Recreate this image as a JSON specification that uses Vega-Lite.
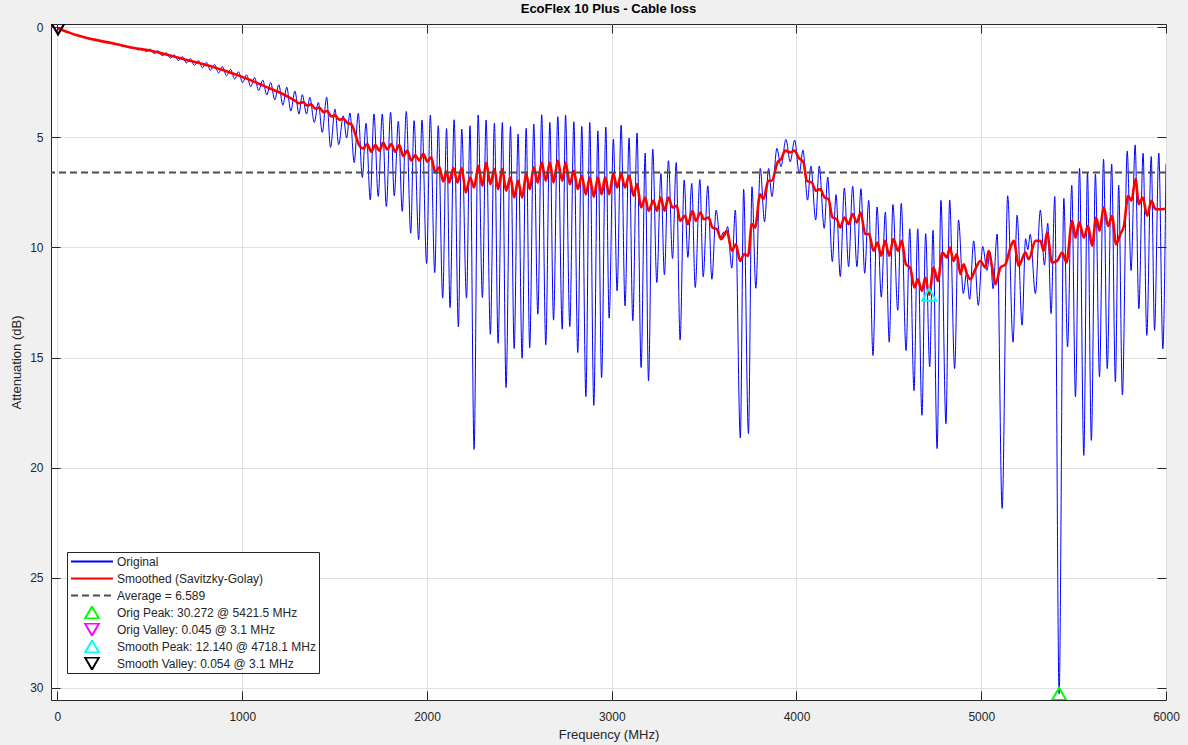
{
  "$schema": "https://vega.github.io/schema/vega-lite/v6.json",
  "width": 1115,
  "height": 676,
  "autosize": {"type": "none"},
  "padding": {"left": 51, "top": 24, "right": 22, "bottom": 45},
  "background": "#f0f0f0",
  "title": {"text": "EcoFlex 10 Plus - Cable loss", "font": "Liberation Sans", "fontSize": 13, "fontWeight": "bold", "color": "#000000", "offset": 5, "anchor": "middle"},
  "config": {
    "view": {"fill": "#ffffff", "stroke": "#262626", "strokeWidth": 1},
    "axis": {"labelFont": "Liberation Sans", "labelFontSize": 12, "labelColor": "#262626", "labelFlush": false, "titleFont": "Liberation Sans", "titleFontSize": 13, "titleColor": "#262626", "titleFontWeight": "normal", "gridColor": "#dfdfdf", "gridWidth": 1, "tickColor": "#262626", "domain": false},
    "legend": {"orient": "none", "legendX": 16, "legendY": 528, "fillColor": "#ffffff", "strokeColor": "#262626", "padding": 3, "labelFont": "Liberation Sans", "labelFontSize": 12, "labelColor": "#262626", "labelLimit": 0, "labelOffset": 17, "symbolOffset": 14, "symbolSize": 196, "symbolStrokeWidth": 2, "rowPadding": 4, "clipHeight": 13}
  },
  "datasets": {
    "blue": [
      {"f":3.1,"a":0.045,"s":"Original"},{"f":50,"a":0.2,"s":"Original"},{"f":100,"a":0.35,"s":"Original"},{"f":150,"a":0.46,"s":"Original"},{"f":200,"a":0.56,"s":"Original"},{"f":250,"a":0.65,"s":"Original"},{"f":284,"a":0.68,"s":"Original"},{"f":306,"a":0.76,"s":"Original"},{"f":328,"a":0.76,"s":"Original"},{"f":350,"a":0.86,"s":"Original"},{"f":371,"a":0.85,"s":"Original"},{"f":393,"a":0.94,"s":"Original"},{"f":415,"a":0.91,"s":"Original"},{"f":437,"a":1.03,"s":"Original"},{"f":458,"a":0.95,"s":"Original"},{"f":480,"a":1.10,"s":"Original"},{"f":502,"a":0.99,"s":"Original"},{"f":524,"a":1.19,"s":"Original"},{"f":545,"a":1.07,"s":"Original"},{"f":567,"a":1.29,"s":"Original"},{"f":589,"a":1.16,"s":"Original"},{"f":611,"a":1.40,"s":"Original"},{"f":632,"a":1.25,"s":"Original"},{"f":654,"a":1.51,"s":"Original"},{"f":676,"a":1.33,"s":"Original"},{"f":698,"a":1.62,"s":"Original"},{"f":719,"a":1.42,"s":"Original"},{"f":741,"a":1.73,"s":"Original"},{"f":763,"a":1.51,"s":"Original"},{"f":785,"a":1.84,"s":"Original"},{"f":806,"a":1.59,"s":"Original"},{"f":828,"a":1.95,"s":"Original"},{"f":850,"a":1.69,"s":"Original"},{"f":872,"a":2.07,"s":"Original"},{"f":893,"a":1.79,"s":"Original"},{"f":915,"a":2.2,"s":"Original"},{"f":937,"a":1.91,"s":"Original"},{"f":959,"a":2.35,"s":"Original"},{"f":980,"a":2.02,"s":"Original"},{"f":1002,"a":2.51,"s":"Original"},{"f":1024,"a":2.16,"s":"Original"},{"f":1046,"a":2.7,"s":"Original"},{"f":1067,"a":2.28,"s":"Original"},{"f":1089,"a":2.87,"s":"Original"},{"f":1111,"a":2.40,"s":"Original"},{"f":1133,"a":3.07,"s":"Original"},{"f":1154,"a":2.51,"s":"Original"},{"f":1176,"a":3.29,"s":"Original"},{"f":1198,"a":2.61,"s":"Original"},{"f":1220,"a":3.54,"s":"Original"},{"f":1241,"a":2.72,"s":"Original"},{"f":1263,"a":3.8,"s":"Original"},{"f":1285,"a":2.9,"s":"Original"},{"f":1307,"a":3.94,"s":"Original"},{"f":1325,"a":3.06,"s":"Original"},{"f":1348,"a":3.94,"s":"Original"},{"f":1366,"a":3.18,"s":"Original"},{"f":1390,"a":4.32,"s":"Original"},{"f":1412,"a":3.41,"s":"Original"},{"f":1433,"a":4.77,"s":"Original"},{"f":1457,"a":3.18,"s":"Original"},{"f":1478,"a":5.45,"s":"Original"},{"f":1502,"a":3.71,"s":"Original"},{"f":1522,"a":5.33,"s":"Original"},{"f":1547,"a":4.02,"s":"Original"},{"f":1565,"a":5.03,"s":"Original"},{"f":1583,"a":3.89,"s":"Original"},{"f":1606,"a":6.14,"s":"Original"},{"f":1628,"a":3.91,"s":"Original"},{"f":1650,"a":6.82,"s":"Original"},{"f":1670,"a":4.36,"s":"Original"},{"f":1693,"a":7.83,"s":"Original"},{"f":1713,"a":3.94,"s":"Original"},{"f":1736,"a":7.68,"s":"Original"},{"f":1758,"a":3.94,"s":"Original"},{"f":1780,"a":8.14,"s":"Original"},{"f":1803,"a":3.86,"s":"Original"},{"f":1823,"a":7.65,"s":"Original"},{"f":1845,"a":4.27,"s":"Original"},{"f":1866,"a":8.36,"s":"Original"},{"f":1888,"a":3.82,"s":"Original"},{"f":1912,"a":9.35,"s":"Original"},{"f":1930,"a":4.24,"s":"Original"},{"f":1955,"a":9.65,"s":"Original"},{"f":1973,"a":4.21,"s":"Original"},{"f":1998,"a":10.73,"s":"Original"},{"f":2018,"a":3.98,"s":"Original"},{"f":2042,"a":11.14,"s":"Original"},{"f":2061,"a":4.47,"s":"Original"},{"f":2085,"a":12.30,"s":"Original"},{"f":2106,"a":4.6,"s":"Original"},{"f":2125,"a":12.73,"s":"Original"},{"f":2147,"a":4.2,"s":"Original"},{"f":2170,"a":13.6,"s":"Original"},{"f":2188,"a":4.62,"s":"Original"},{"f":2214,"a":12.3,"s":"Original"},{"f":2233,"a":4.47,"s":"Original"},{"f":2255,"a":19.17,"s":"Original"},{"f":2277,"a":3.98,"s":"Original"},{"f":2300,"a":12.27,"s":"Original"},{"f":2320,"a":4.21,"s":"Original"},{"f":2343,"a":13.94,"s":"Original"},{"f":2365,"a":4.36,"s":"Original"},{"f":2385,"a":14.35,"s":"Original"},{"f":2408,"a":4.32,"s":"Original"},{"f":2428,"a":16.36,"s":"Original"},{"f":2452,"a":4.5,"s":"Original"},{"f":2472,"a":14.59,"s":"Original"},{"f":2493,"a":4.85,"s":"Original"},{"f":2515,"a":15.03,"s":"Original"},{"f":2537,"a":4.59,"s":"Original"},{"f":2556,"a":14.55,"s":"Original"},{"f":2578,"a":4.39,"s":"Original"},{"f":2600,"a":13.03,"s":"Original"},{"f":2621,"a":3.97,"s":"Original"},{"f":2643,"a":14.42,"s":"Original"},{"f":2665,"a":4.32,"s":"Original"},{"f":2685,"a":13.3,"s":"Original"},{"f":2708,"a":4.06,"s":"Original"},{"f":2732,"a":13.71,"s":"Original"},{"f":2750,"a":3.98,"s":"Original"},{"f":2773,"a":13.59,"s":"Original"},{"f":2795,"a":4.29,"s":"Original"},{"f":2816,"a":14.77,"s":"Original"},{"f":2838,"a":4.5,"s":"Original"},{"f":2860,"a":16.77,"s":"Original"},{"f":2881,"a":4.32,"s":"Original"},{"f":2903,"a":17.17,"s":"Original"},{"f":2925,"a":4.7,"s":"Original"},{"f":2945,"a":15.91,"s":"Original"},{"f":2968,"a":4.53,"s":"Original"},{"f":2986,"a":13.21,"s":"Original"},{"f":3009,"a":5.08,"s":"Original"},{"f":3029,"a":11.97,"s":"Original"},{"f":3051,"a":4.44,"s":"Original"},{"f":3072,"a":12.65,"s":"Original"},{"f":3094,"a":5.03,"s":"Original"},{"f":3114,"a":13.33,"s":"Original"},{"f":3137,"a":4.8,"s":"Original"},{"f":3159,"a":15.45,"s":"Original"},{"f":3181,"a":5.71,"s":"Original"},{"f":3199,"a":16.06,"s":"Original"},{"f":3222,"a":5.53,"s":"Original"},{"f":3244,"a":11.59,"s":"Original"},{"f":3266,"a":6.64,"s":"Original"},{"f":3285,"a":11.24,"s":"Original"},{"f":3307,"a":6.06,"s":"Original"},{"f":3329,"a":10.5,"s":"Original"},{"f":3349,"a":6.14,"s":"Original"},{"f":3370,"a":14.2,"s":"Original"},{"f":3392,"a":6.94,"s":"Original"},{"f":3412,"a":10.45,"s":"Original"},{"f":3433,"a":7.09,"s":"Original"},{"f":3452,"a":11.82,"s":"Original"},{"f":3477,"a":6.91,"s":"Original"},{"f":3495,"a":11.33,"s":"Original"},{"f":3520,"a":7.2,"s":"Original"},{"f":3542,"a":11.44,"s":"Original"},{"f":3565,"a":8.3,"s":"Original"},{"f":3587,"a":9.6,"s":"Original"},{"f":3605,"a":9.3,"s":"Original"},{"f":3614,"a":9.45,"s":"Original"},{"f":3627,"a":9.05,"s":"Original"},{"f":3650,"a":10.94,"s":"Original"},{"f":3669,"a":8.3,"s":"Original"},{"f":3696,"a":18.65,"s":"Original"},{"f":3714,"a":7.36,"s":"Original"},{"f":3740,"a":18.45,"s":"Original"},{"f":3759,"a":7.24,"s":"Original"},{"f":3780,"a":11.85,"s":"Original"},{"f":3804,"a":6.41,"s":"Original"},{"f":3827,"a":8.83,"s":"Original"},{"f":3849,"a":6.41,"s":"Original"},{"f":3867,"a":7.69,"s":"Original"},{"f":3894,"a":5.5,"s":"Original"},{"f":3916,"a":6.33,"s":"Original"},{"f":3943,"a":5.09,"s":"Original"},{"f":3966,"a":6.11,"s":"Original"},{"f":3990,"a":5.12,"s":"Original"},{"f":4015,"a":6.64,"s":"Original"},{"f":4035,"a":5.58,"s":"Original"},{"f":4060,"a":7.85,"s":"Original"},{"f":4078,"a":6.3,"s":"Original"},{"f":4104,"a":8.75,"s":"Original"},{"f":4123,"a":6.3,"s":"Original"},{"f":4150,"a":9.13,"s":"Original"},{"f":4169,"a":6.8,"s":"Original"},{"f":4194,"a":10.64,"s":"Original"},{"f":4214,"a":7.6,"s":"Original"},{"f":4237,"a":11.32,"s":"Original"},{"f":4259,"a":7.3,"s":"Original"},{"f":4282,"a":10.87,"s":"Original"},{"f":4304,"a":7.22,"s":"Original"},{"f":4327,"a":10.87,"s":"Original"},{"f":4349,"a":7.33,"s":"Original"},{"f":4369,"a":11.17,"s":"Original"},{"f":4391,"a":7.86,"s":"Original"},{"f":4414,"a":14.9,"s":"Original"},{"f":4436,"a":8.16,"s":"Original"},{"f":4459,"a":12.25,"s":"Original"},{"f":4481,"a":8.39,"s":"Original"},{"f":4502,"a":14.3,"s":"Original"},{"f":4522,"a":8.05,"s":"Original"},{"f":4548,"a":12.85,"s":"Original"},{"f":4567,"a":8.0,"s":"Original"},{"f":4593,"a":14.68,"s":"Original"},{"f":4613,"a":9.15,"s":"Original"},{"f":4636,"a":16.5,"s":"Original"},{"f":4656,"a":9.15,"s":"Original"},{"f":4679,"a":17.62,"s":"Original"},{"f":4699,"a":9.37,"s":"Original"},{"f":4721,"a":15.42,"s":"Original"},{"f":4739,"a":9.22,"s":"Original"},{"f":4761,"a":19.13,"s":"Original"},{"f":4782,"a":7.86,"s":"Original"},{"f":4809,"a":18.0,"s":"Original"},{"f":4829,"a":7.84,"s":"Original"},{"f":4856,"a":15.5,"s":"Original"},{"f":4877,"a":8.75,"s":"Original"},{"f":4903,"a":12.09,"s":"Original"},{"f":4920,"a":11.2,"s":"Original"},{"f":4937,"a":12.35,"s":"Original"},{"f":4959,"a":9.7,"s":"Original"},{"f":4984,"a":12.63,"s":"Original"},{"f":5008,"a":9.95,"s":"Original"},{"f":5031,"a":11.04,"s":"Original"},{"f":5048,"a":10.2,"s":"Original"},{"f":5064,"a":11.87,"s":"Original"},{"f":5086,"a":9.39,"s":"Original"},{"f":5113,"a":21.85,"s":"Original"},{"f":5143,"a":7.65,"s":"Original"},{"f":5172,"a":14.3,"s":"Original"},{"f":5194,"a":8.53,"s":"Original"},{"f":5221,"a":13.53,"s":"Original"},{"f":5240,"a":9.6,"s":"Original"},{"f":5252,"a":10.1,"s":"Original"},{"f":5265,"a":9.4,"s":"Original"},{"f":5293,"a":12.09,"s":"Original"},{"f":5320,"a":8.3,"s":"Original"},{"f":5342,"a":10.8,"s":"Original"},{"f":5360,"a":8.9,"s":"Original"},{"f":5378,"a":13.0,"s":"Original"},{"f":5398,"a":7.68,"s":"Original"},{"f":5421.5,"a":30.272,"s":"Original"},{"f":5447,"a":7.77,"s":"Original"},{"f":5467,"a":14.52,"s":"Original"},{"f":5490,"a":7.18,"s":"Original"},{"f":5510,"a":16.78,"s":"Original"},{"f":5532,"a":6.41,"s":"Original"},{"f":5555,"a":19.44,"s":"Original"},{"f":5575,"a":6.57,"s":"Original"},{"f":5596,"a":18.76,"s":"Original"},{"f":5618,"a":6.67,"s":"Original"},{"f":5640,"a":15.87,"s":"Original"},{"f":5662,"a":5.99,"s":"Original"},{"f":5682,"a":15.5,"s":"Original"},{"f":5706,"a":6.21,"s":"Original"},{"f":5726,"a":16.1,"s":"Original"},{"f":5744,"a":7.18,"s":"Original"},{"f":5764,"a":16.7,"s":"Original"},{"f":5790,"a":5.62,"s":"Original"},{"f":5811,"a":11.04,"s":"Original"},{"f":5833,"a":5.34,"s":"Original"},{"f":5853,"a":12.78,"s":"Original"},{"f":5876,"a":5.72,"s":"Original"},{"f":5896,"a":13.99,"s":"Original"},{"f":5920,"a":5.87,"s":"Original"},{"f":5938,"a":13.76,"s":"Original"},{"f":5961,"a":5.71,"s":"Original"},{"f":5983,"a":14.6,"s":"Original"},{"f":6000,"a":6.2,"s":"Original"}
    ],
    "red": [
      {"f":3.1,"a":0.054,"s":"Smoothed (Savitzky-Golay)"},{"f":50,"a":0.2,"s":"Smoothed (Savitzky-Golay)"},{"f":100,"a":0.35,"s":"Smoothed (Savitzky-Golay)"},{"f":150,"a":0.46,"s":"Smoothed (Savitzky-Golay)"},{"f":200,"a":0.56,"s":"Smoothed (Savitzky-Golay)"},{"f":250,"a":0.65,"s":"Smoothed (Savitzky-Golay)"},{"f":300,"a":0.73,"s":"Smoothed (Savitzky-Golay)"},{"f":350,"a":0.83,"s":"Smoothed (Savitzky-Golay)"},{"f":400,"a":0.92,"s":"Smoothed (Savitzky-Golay)"},{"f":450,"a":0.99,"s":"Smoothed (Savitzky-Golay)"},{"f":500,"a":1.05,"s":"Smoothed (Savitzky-Golay)"},{"f":550,"a":1.15,"s":"Smoothed (Savitzky-Golay)"},{"f":600,"a":1.26,"s":"Smoothed (Savitzky-Golay)"},{"f":650,"a":1.37,"s":"Smoothed (Savitzky-Golay)"},{"f":700,"a":1.48,"s":"Smoothed (Savitzky-Golay)"},{"f":750,"a":1.59,"s":"Smoothed (Savitzky-Golay)"},{"f":800,"a":1.7,"s":"Smoothed (Savitzky-Golay)"},{"f":850,"a":1.82,"s":"Smoothed (Savitzky-Golay)"},{"f":900,"a":1.95,"s":"Smoothed (Savitzky-Golay)"},{"f":950,"a":2.1,"s":"Smoothed (Savitzky-Golay)"},{"f":1000,"a":2.25,"s":"Smoothed (Savitzky-Golay)"},{"f":1050,"a":2.42,"s":"Smoothed (Savitzky-Golay)"},{"f":1100,"a":2.6,"s":"Smoothed (Savitzky-Golay)"},{"f":1150,"a":2.78,"s":"Smoothed (Savitzky-Golay)"},{"f":1200,"a":2.95,"s":"Smoothed (Savitzky-Golay)"},{"f":1240,"a":3.12,"s":"Smoothed (Savitzky-Golay)"},{"f":1285,"a":3.33,"s":"Smoothed (Savitzky-Golay)"},{"f":1307,"a":3.45,"s":"Smoothed (Savitzky-Golay)"},{"f":1330,"a":3.4,"s":"Smoothed (Savitzky-Golay)"},{"f":1350,"a":3.55,"s":"Smoothed (Savitzky-Golay)"},{"f":1373,"a":3.5,"s":"Smoothed (Savitzky-Golay)"},{"f":1395,"a":3.7,"s":"Smoothed (Savitzky-Golay)"},{"f":1417,"a":3.65,"s":"Smoothed (Savitzky-Golay)"},{"f":1440,"a":3.85,"s":"Smoothed (Savitzky-Golay)"},{"f":1460,"a":3.8,"s":"Smoothed (Savitzky-Golay)"},{"f":1482,"a":4.05,"s":"Smoothed (Savitzky-Golay)"},{"f":1503,"a":4.0,"s":"Smoothed (Savitzky-Golay)"},{"f":1525,"a":4.2,"s":"Smoothed (Savitzky-Golay)"},{"f":1547,"a":4.15,"s":"Smoothed (Savitzky-Golay)"},{"f":1570,"a":4.35,"s":"Smoothed (Savitzky-Golay)"},{"f":1590,"a":4.4,"s":"Smoothed (Savitzky-Golay)"},{"f":1612,"a":4.85,"s":"Smoothed (Savitzky-Golay)"},{"f":1633,"a":5.35,"s":"Smoothed (Savitzky-Golay)"},{"f":1655,"a":5.5,"s":"Smoothed (Savitzky-Golay)"},{"f":1677,"a":5.3,"s":"Smoothed (Savitzky-Golay)"},{"f":1698,"a":5.65,"s":"Smoothed (Savitzky-Golay)"},{"f":1720,"a":5.35,"s":"Smoothed (Savitzky-Golay)"},{"f":1742,"a":5.6,"s":"Smoothed (Savitzky-Golay)"},{"f":1763,"a":5.25,"s":"Smoothed (Savitzky-Golay)"},{"f":1785,"a":5.55,"s":"Smoothed (Savitzky-Golay)"},{"f":1807,"a":5.3,"s":"Smoothed (Savitzky-Golay)"},{"f":1828,"a":5.65,"s":"Smoothed (Savitzky-Golay)"},{"f":1850,"a":5.35,"s":"Smoothed (Savitzky-Golay)"},{"f":1872,"a":5.85,"s":"Smoothed (Savitzky-Golay)"},{"f":1893,"a":5.6,"s":"Smoothed (Savitzky-Golay)"},{"f":1915,"a":6.05,"s":"Smoothed (Savitzky-Golay)"},{"f":1937,"a":5.8,"s":"Smoothed (Savitzky-Golay)"},{"f":1958,"a":6.05,"s":"Smoothed (Savitzky-Golay)"},{"f":1980,"a":5.75,"s":"Smoothed (Savitzky-Golay)"},{"f":2002,"a":6.1,"s":"Smoothed (Savitzky-Golay)"},{"f":2023,"a":5.9,"s":"Smoothed (Savitzky-Golay)"},{"f":2045,"a":6.6,"s":"Smoothed (Savitzky-Golay)"},{"f":2067,"a":6.35,"s":"Smoothed (Savitzky-Golay)"},{"f":2088,"a":7.0,"s":"Smoothed (Savitzky-Golay)"},{"f":2106,"a":6.55,"s":"Smoothed (Savitzky-Golay)"},{"f":2120,"a":7.05,"s":"Smoothed (Savitzky-Golay)"},{"f":2143,"a":6.39,"s":"Smoothed (Savitzky-Golay)"},{"f":2165,"a":7.05,"s":"Smoothed (Savitzky-Golay)"},{"f":2188,"a":6.39,"s":"Smoothed (Savitzky-Golay)"},{"f":2210,"a":7.5,"s":"Smoothed (Savitzky-Golay)"},{"f":2233,"a":6.82,"s":"Smoothed (Savitzky-Golay)"},{"f":2255,"a":7.27,"s":"Smoothed (Savitzky-Golay)"},{"f":2278,"a":6.29,"s":"Smoothed (Savitzky-Golay)"},{"f":2300,"a":7.2,"s":"Smoothed (Savitzky-Golay)"},{"f":2320,"a":6.14,"s":"Smoothed (Savitzky-Golay)"},{"f":2343,"a":7.12,"s":"Smoothed (Savitzky-Golay)"},{"f":2365,"a":6.44,"s":"Smoothed (Savitzky-Golay)"},{"f":2385,"a":7.35,"s":"Smoothed (Savitzky-Golay)"},{"f":2408,"a":6.44,"s":"Smoothed (Savitzky-Golay)"},{"f":2428,"a":7.42,"s":"Smoothed (Savitzky-Golay)"},{"f":2452,"a":6.82,"s":"Smoothed (Savitzky-Golay)"},{"f":2472,"a":7.73,"s":"Smoothed (Savitzky-Golay)"},{"f":2493,"a":6.97,"s":"Smoothed (Savitzky-Golay)"},{"f":2515,"a":7.73,"s":"Smoothed (Savitzky-Golay)"},{"f":2537,"a":6.67,"s":"Smoothed (Savitzky-Golay)"},{"f":2556,"a":7.35,"s":"Smoothed (Savitzky-Golay)"},{"f":2578,"a":6.36,"s":"Smoothed (Savitzky-Golay)"},{"f":2600,"a":7.05,"s":"Smoothed (Savitzky-Golay)"},{"f":2621,"a":6.14,"s":"Smoothed (Savitzky-Golay)"},{"f":2643,"a":6.97,"s":"Smoothed (Savitzky-Golay)"},{"f":2665,"a":6.14,"s":"Smoothed (Savitzky-Golay)"},{"f":2685,"a":7.05,"s":"Smoothed (Savitzky-Golay)"},{"f":2708,"a":6.06,"s":"Smoothed (Savitzky-Golay)"},{"f":2732,"a":6.97,"s":"Smoothed (Savitzky-Golay)"},{"f":2750,"a":6.14,"s":"Smoothed (Savitzky-Golay)"},{"f":2773,"a":7.12,"s":"Smoothed (Savitzky-Golay)"},{"f":2795,"a":6.52,"s":"Smoothed (Savitzky-Golay)"},{"f":2816,"a":7.35,"s":"Smoothed (Savitzky-Golay)"},{"f":2838,"a":6.74,"s":"Smoothed (Savitzky-Golay)"},{"f":2860,"a":7.58,"s":"Smoothed (Savitzky-Golay)"},{"f":2881,"a":6.82,"s":"Smoothed (Savitzky-Golay)"},{"f":2903,"a":7.7,"s":"Smoothed (Savitzky-Golay)"},{"f":2925,"a":6.82,"s":"Smoothed (Savitzky-Golay)"},{"f":2945,"a":7.58,"s":"Smoothed (Savitzky-Golay)"},{"f":2964,"a":6.82,"s":"Smoothed (Savitzky-Golay)"},{"f":2986,"a":7.58,"s":"Smoothed (Savitzky-Golay)"},{"f":3009,"a":6.67,"s":"Smoothed (Savitzky-Golay)"},{"f":3029,"a":7.27,"s":"Smoothed (Savitzky-Golay)"},{"f":3051,"a":6.67,"s":"Smoothed (Savitzky-Golay)"},{"f":3072,"a":7.27,"s":"Smoothed (Savitzky-Golay)"},{"f":3094,"a":6.74,"s":"Smoothed (Savitzky-Golay)"},{"f":3118,"a":7.65,"s":"Smoothed (Savitzky-Golay)"},{"f":3137,"a":7.12,"s":"Smoothed (Savitzky-Golay)"},{"f":3159,"a":8.18,"s":"Smoothed (Savitzky-Golay)"},{"f":3181,"a":7.73,"s":"Smoothed (Savitzky-Golay)"},{"f":3199,"a":8.33,"s":"Smoothed (Savitzky-Golay)"},{"f":3226,"a":7.88,"s":"Smoothed (Savitzky-Golay)"},{"f":3244,"a":8.33,"s":"Smoothed (Savitzky-Golay)"},{"f":3266,"a":7.73,"s":"Smoothed (Savitzky-Golay)"},{"f":3285,"a":8.33,"s":"Smoothed (Savitzky-Golay)"},{"f":3307,"a":7.73,"s":"Smoothed (Savitzky-Golay)"},{"f":3329,"a":8.18,"s":"Smoothed (Savitzky-Golay)"},{"f":3352,"a":8.11,"s":"Smoothed (Savitzky-Golay)"},{"f":3370,"a":8.79,"s":"Smoothed (Savitzky-Golay)"},{"f":3397,"a":8.56,"s":"Smoothed (Savitzky-Golay)"},{"f":3412,"a":8.94,"s":"Smoothed (Savitzky-Golay)"},{"f":3437,"a":8.33,"s":"Smoothed (Savitzky-Golay)"},{"f":3455,"a":8.79,"s":"Smoothed (Savitzky-Golay)"},{"f":3480,"a":8.41,"s":"Smoothed (Savitzky-Golay)"},{"f":3498,"a":8.71,"s":"Smoothed (Savitzky-Golay)"},{"f":3524,"a":8.64,"s":"Smoothed (Savitzky-Golay)"},{"f":3545,"a":9.09,"s":"Smoothed (Savitzky-Golay)"},{"f":3569,"a":9.17,"s":"Smoothed (Savitzky-Golay)"},{"f":3592,"a":9.62,"s":"Smoothed (Savitzky-Golay)"},{"f":3623,"a":9.24,"s":"Smoothed (Savitzky-Golay)"},{"f":3650,"a":10.15,"s":"Smoothed (Savitzky-Golay)"},{"f":3672,"a":9.85,"s":"Smoothed (Savitzky-Golay)"},{"f":3695,"a":10.61,"s":"Smoothed (Savitzky-Golay)"},{"f":3717,"a":10.3,"s":"Smoothed (Savitzky-Golay)"},{"f":3738,"a":10.38,"s":"Smoothed (Savitzky-Golay)"},{"f":3758,"a":8.94,"s":"Smoothed (Savitzky-Golay)"},{"f":3776,"a":9.09,"s":"Smoothed (Savitzky-Golay)"},{"f":3803,"a":7.58,"s":"Smoothed (Savitzky-Golay)"},{"f":3821,"a":7.8,"s":"Smoothed (Savitzky-Golay)"},{"f":3848,"a":6.97,"s":"Smoothed (Savitzky-Golay)"},{"f":3866,"a":6.97,"s":"Smoothed (Savitzky-Golay)"},{"f":3897,"a":6.14,"s":"Smoothed (Savitzky-Golay)"},{"f":3917,"a":5.98,"s":"Smoothed (Savitzky-Golay)"},{"f":3939,"a":5.6,"s":"Smoothed (Savitzky-Golay)"},{"f":3966,"a":5.68,"s":"Smoothed (Savitzky-Golay)"},{"f":3989,"a":5.6,"s":"Smoothed (Savitzky-Golay)"},{"f":4011,"a":5.91,"s":"Smoothed (Savitzky-Golay)"},{"f":4038,"a":6.14,"s":"Smoothed (Savitzky-Golay)"},{"f":4056,"a":6.97,"s":"Smoothed (Savitzky-Golay)"},{"f":4083,"a":7.05,"s":"Smoothed (Savitzky-Golay)"},{"f":4105,"a":7.42,"s":"Smoothed (Savitzky-Golay)"},{"f":4128,"a":7.35,"s":"Smoothed (Savitzky-Golay)"},{"f":4152,"a":7.73,"s":"Smoothed (Savitzky-Golay)"},{"f":4173,"a":7.8,"s":"Smoothed (Savitzky-Golay)"},{"f":4195,"a":8.64,"s":"Smoothed (Savitzky-Golay)"},{"f":4218,"a":8.71,"s":"Smoothed (Savitzky-Golay)"},{"f":4236,"a":9.09,"s":"Smoothed (Savitzky-Golay)"},{"f":4260,"a":8.64,"s":"Smoothed (Savitzky-Golay)"},{"f":4282,"a":8.94,"s":"Smoothed (Savitzky-Golay)"},{"f":4303,"a":8.48,"s":"Smoothed (Savitzky-Golay)"},{"f":4327,"a":8.86,"s":"Smoothed (Savitzky-Golay)"},{"f":4347,"a":8.41,"s":"Smoothed (Savitzky-Golay)"},{"f":4372,"a":9.39,"s":"Smoothed (Savitzky-Golay)"},{"f":4393,"a":9.39,"s":"Smoothed (Savitzky-Golay)"},{"f":4417,"a":10.15,"s":"Smoothed (Savitzky-Golay)"},{"f":4439,"a":9.77,"s":"Smoothed (Savitzky-Golay)"},{"f":4458,"a":10.38,"s":"Smoothed (Savitzky-Golay)"},{"f":4480,"a":9.7,"s":"Smoothed (Savitzky-Golay)"},{"f":4502,"a":10.38,"s":"Smoothed (Savitzky-Golay)"},{"f":4525,"a":9.62,"s":"Smoothed (Savitzky-Golay)"},{"f":4549,"a":10.15,"s":"Smoothed (Savitzky-Golay)"},{"f":4570,"a":9.7,"s":"Smoothed (Savitzky-Golay)"},{"f":4592,"a":10.76,"s":"Smoothed (Savitzky-Golay)"},{"f":4615,"a":10.91,"s":"Smoothed (Savitzky-Golay)"},{"f":4639,"a":11.82,"s":"Smoothed (Savitzky-Golay)"},{"f":4657,"a":11.44,"s":"Smoothed (Savitzky-Golay)"},{"f":4679,"a":11.97,"s":"Smoothed (Savitzky-Golay)"},{"f":4697,"a":11.36,"s":"Smoothed (Savitzky-Golay)"},{"f":4718.1,"a":12.14,"s":"Smoothed (Savitzky-Golay)"},{"f":4742,"a":10.91,"s":"Smoothed (Savitzky-Golay)"},{"f":4765,"a":11.52,"s":"Smoothed (Savitzky-Golay)"},{"f":4790,"a":10.23,"s":"Smoothed (Savitzky-Golay)"},{"f":4814,"a":10.45,"s":"Smoothed (Savitzky-Golay)"},{"f":4830,"a":10.0,"s":"Smoothed (Savitzky-Golay)"},{"f":4850,"a":10.61,"s":"Smoothed (Savitzky-Golay)"},{"f":4868,"a":10.3,"s":"Smoothed (Savitzky-Golay)"},{"f":4887,"a":11.2,"s":"Smoothed (Savitzky-Golay)"},{"f":4905,"a":10.76,"s":"Smoothed (Savitzky-Golay)"},{"f":4923,"a":11.21,"s":"Smoothed (Savitzky-Golay)"},{"f":4941,"a":11.44,"s":"Smoothed (Savitzky-Golay)"},{"f":4968,"a":10.98,"s":"Smoothed (Savitzky-Golay)"},{"f":4995,"a":10.61,"s":"Smoothed (Savitzky-Golay)"},{"f":5022,"a":10.91,"s":"Smoothed (Savitzky-Golay)"},{"f":5040,"a":10.15,"s":"Smoothed (Savitzky-Golay)"},{"f":5059,"a":10.91,"s":"Smoothed (Savitzky-Golay)"},{"f":5077,"a":11.67,"s":"Smoothed (Savitzky-Golay)"},{"f":5104,"a":10.91,"s":"Smoothed (Savitzky-Golay)"},{"f":5131,"a":10.76,"s":"Smoothed (Savitzky-Golay)"},{"f":5158,"a":10.0,"s":"Smoothed (Savitzky-Golay)"},{"f":5176,"a":9.7,"s":"Smoothed (Savitzky-Golay)"},{"f":5203,"a":10.83,"s":"Smoothed (Savitzky-Golay)"},{"f":5239,"a":10.23,"s":"Smoothed (Savitzky-Golay)"},{"f":5257,"a":10.53,"s":"Smoothed (Savitzky-Golay)"},{"f":5293,"a":9.7,"s":"Smoothed (Savitzky-Golay)"},{"f":5320,"a":9.7,"s":"Smoothed (Savitzky-Golay)"},{"f":5338,"a":10.15,"s":"Smoothed (Savitzky-Golay)"},{"f":5356,"a":9.32,"s":"Smoothed (Savitzky-Golay)"},{"f":5383,"a":10.68,"s":"Smoothed (Savitzky-Golay)"},{"f":5411,"a":10.61,"s":"Smoothed (Savitzky-Golay)"},{"f":5438,"a":10.23,"s":"Smoothed (Savitzky-Golay)"},{"f":5461,"a":10.68,"s":"Smoothed (Savitzky-Golay)"},{"f":5492,"a":8.79,"s":"Smoothed (Savitzky-Golay)"},{"f":5510,"a":9.55,"s":"Smoothed (Savitzky-Golay)"},{"f":5531,"a":8.86,"s":"Smoothed (Savitzky-Golay)"},{"f":5555,"a":9.55,"s":"Smoothed (Savitzky-Golay)"},{"f":5578,"a":9.02,"s":"Smoothed (Savitzky-Golay)"},{"f":5600,"a":9.92,"s":"Smoothed (Savitzky-Golay)"},{"f":5622,"a":8.64,"s":"Smoothed (Savitzky-Golay)"},{"f":5640,"a":9.24,"s":"Smoothed (Savitzky-Golay)"},{"f":5663,"a":8.18,"s":"Smoothed (Savitzky-Golay)"},{"f":5687,"a":9.02,"s":"Smoothed (Savitzky-Golay)"},{"f":5708,"a":8.56,"s":"Smoothed (Savitzky-Golay)"},{"f":5730,"a":9.85,"s":"Smoothed (Savitzky-Golay)"},{"f":5753,"a":9.39,"s":"Smoothed (Savitzky-Golay)"},{"f":5772,"a":9.02,"s":"Smoothed (Savitzky-Golay)"},{"f":5795,"a":7.65,"s":"Smoothed (Savitzky-Golay)"},{"f":5813,"a":7.88,"s":"Smoothed (Savitzky-Golay)"},{"f":5835,"a":6.89,"s":"Smoothed (Savitzky-Golay)"},{"f":5853,"a":8.03,"s":"Smoothed (Savitzky-Golay)"},{"f":5874,"a":7.73,"s":"Smoothed (Savitzky-Golay)"},{"f":5898,"a":8.56,"s":"Smoothed (Savitzky-Golay)"},{"f":5921,"a":7.88,"s":"Smoothed (Savitzky-Golay)"},{"f":5943,"a":8.26,"s":"Smoothed (Savitzky-Golay)"},{"f":5979,"a":8.26,"s":"Smoothed (Savitzky-Golay)"},{"f":6000,"a":8.23,"s":"Smoothed (Savitzky-Golay)"}
    ],
    "avg": [{"a": 6.589, "s": "Average = 6.589"}],
    "marks": [
      {"f": 5421.5, "a": 30.272, "s": "Orig Peak: 30.272 @ 5421.5 MHz"},
      {"f": 3.1, "a": 0.045, "s": "Orig Valley: 0.045 @ 3.1 MHz"},
      {"f": 4718.1, "a": 12.14, "s": "Smooth Peak: 12.140 @ 4718.1 MHz"},
      {"f": 3.1, "a": 0.054, "s": "Smooth Valley: 0.054 @ 3.1 MHz"}
    ]
  },
  "layer": [
    {
      "data": {"name": "blue"},
      "mark": {"type": "line", "interpolate": "monotone", "clip": true, "strokeWidth": 1},
      "encoding": {
        "x": {"field": "f", "type": "quantitative", "scale": {"domain": [-35, 6000], "nice": false, "zero": false}, "axis": {"orient": "bottom", "values": [0, 1000, 2000, 3000, 4000, 5000, 6000], "format": "d", "title": "Frequency (MHz)", "grid": true, "tickSize": -9, "labelPadding": 20, "titlePadding": 6}},
        "y": {"field": "a", "type": "quantitative", "scale": {"domain": [-0.15, 30.55], "reverse": true, "nice": false, "zero": false}, "axis": {"orient": "left", "values": [0, 5, 10, 15, 20, 25, 30], "format": "d", "title": "Attenuation (dB)", "grid": true, "tickSize": -9, "labelPadding": 17, "titlePadding": 6}},
        "color": {"field": "s", "type": "nominal", "title": null, "scale": {"domain": ["Original", "Smoothed (Savitzky-Golay)", "Average = 6.589", "Orig Peak: 30.272 @ 5421.5 MHz", "Orig Valley: 0.045 @ 3.1 MHz", "Smooth Peak: 12.140 @ 4718.1 MHz", "Smooth Valley: 0.054 @ 3.1 MHz"], "range": ["#0000ff", "#ff0000", "#4d4d4d", "#00ff00", "#ff00ff", "#00ffff", "#000000"]}}
      }
    },
    {
      "data": {"name": "red"},
      "mark": {"type": "line", "interpolate": "monotone", "clip": true, "strokeWidth": 2.6},
      "encoding": {
        "x": {"field": "f", "type": "quantitative", "axis": null},
        "y": {"field": "a", "type": "quantitative", "axis": null},
        "color": {"field": "s", "type": "nominal", "title": null}
      }
    },
    {
      "data": {"name": "avg"},
      "mark": {"type": "rule", "strokeWidth": 2},
      "encoding": {
        "y": {"field": "a", "type": "quantitative", "axis": null},
        "color": {"field": "s", "type": "nominal", "title": null},
        "strokeDash": {"field": "s", "type": "nominal", "title": null, "scale": {"domain": ["Original", "Smoothed (Savitzky-Golay)", "Average = 6.589", "Orig Peak: 30.272 @ 5421.5 MHz", "Orig Valley: 0.045 @ 3.1 MHz", "Smooth Peak: 12.140 @ 4718.1 MHz", "Smooth Valley: 0.054 @ 3.1 MHz"], "range": [[1, 0], [1, 0], [7, 4], [1, 0], [1, 0], [1, 0], [1, 0]]}}
      }
    },
    {
      "data": {"name": "marks"},
      "mark": {"type": "point", "filled": false, "opacity": 1, "clip": true, "size": 196, "strokeWidth": 2},
      "encoding": {
        "x": {"field": "f", "type": "quantitative", "axis": {"orient": "top", "values": [0, 1000, 2000, 3000, 4000, 5000, 6000], "labels": false, "title": null, "grid": false, "tickSize": -9}},
        "y": {"field": "a", "type": "quantitative", "axis": {"orient": "right", "values": [0, 5, 10, 15, 20, 25, 30], "labels": false, "title": null, "grid": false, "tickSize": -9}},
        "color": {"field": "s", "type": "nominal", "title": null},
        "shape": {"field": "s", "type": "nominal", "title": null, "scale": {"domain": ["Original", "Smoothed (Savitzky-Golay)", "Average = 6.589", "Orig Peak: 30.272 @ 5421.5 MHz", "Orig Valley: 0.045 @ 3.1 MHz", "Smooth Peak: 12.140 @ 4718.1 MHz", "Smooth Valley: 0.054 @ 3.1 MHz"], "range": ["M-3,0H3", "M-3,0H3", "M-3,0H3", "M0,-0.866L-1,0.866L1,0.866Z", "M0,0.866L-1,-0.866L1,-0.866Z", "M0,-0.866L-1,0.866L1,0.866Z", "M0,0.866L-1,-0.866L1,-0.866Z"]}}
      }
    }
  ],
  "resolve": {"axis": {"x": "independent", "y": "independent"}}
}
